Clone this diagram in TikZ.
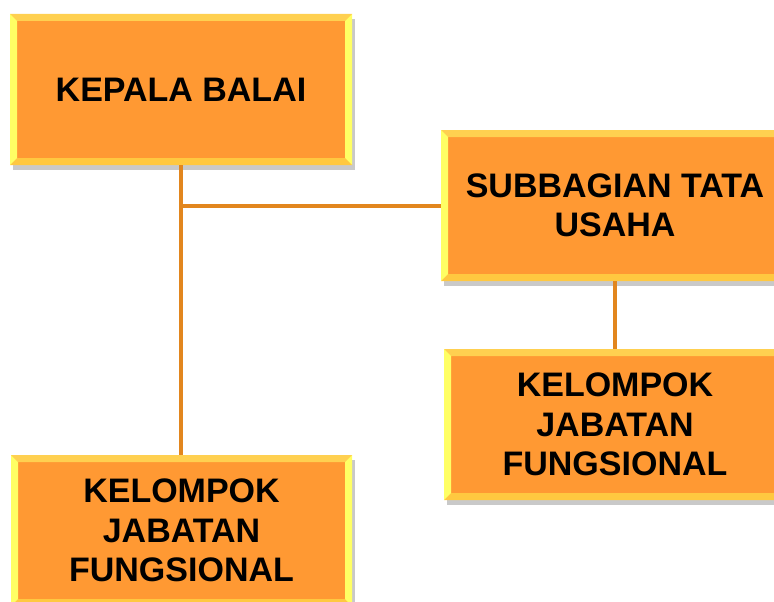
\documentclass[tikz,border=0pt]{standalone}
\usepackage{fontspec}
\setmainfont{Liberation Sans}
\usetikzlibrary{shadows}
\definecolor{boxfill}{RGB}{255,153,51}
\definecolor{beveltop}{RGB}{255,208,80}
\definecolor{bevelside}{RGB}{255,255,100}
\definecolor{bevelbottom}{RGB}{255,200,64}
\definecolor{linecol}{RGB}{226,134,30}
\tikzset{
  orgbox/.style={rectangle, fill=boxfill, minimum width=342pt, minimum height=151pt,
    inner sep=0pt, align=center, font=\fontsize{34}{39.5}\selectfont\bfseries,
    drop shadow={shadow xshift=3pt, shadow yshift=-5pt, opacity=0.3, fill=black!70},
    path picture={
      \coordinate (bbnw) at (path picture bounding box.north west);
      \coordinate (bbne) at (path picture bounding box.north east);
      \coordinate (bbsw) at (path picture bounding box.south west);
      \coordinate (bbse) at (path picture bounding box.south east);
      % bevelled rim
      \fill[beveltop] (bbnw) -- (bbne) -- ([shift={(-7pt,-7pt)}]bbne) -- ([shift={(7pt,-7pt)}]bbnw) -- cycle;
      \fill[bevelbottom] (bbsw) -- (bbse) -- ([shift={(-7pt,7pt)}]bbse) -- ([shift={(7pt,7pt)}]bbsw) -- cycle;
      \fill[bevelside] (bbnw) -- ([shift={(7pt,-7pt)}]bbnw) -- ([shift={(7pt,7pt)}]bbsw) -- (bbsw) -- cycle;
      \fill[bevelside] (bbne) -- ([shift={(-7pt,-7pt)}]bbne) -- ([shift={(-7pt,7pt)}]bbse) -- (bbse) -- cycle;
    }},
  orgline/.style={draw=linecol, line width=4pt}
}
\begin{document}
\begin{tikzpicture}[x=1pt, y=-1pt]
  \useasboundingbox (0,0) rectangle (774,602);
  % boxes
  \node[orgbox] (kepala) at (181,89.5) {KEPALA BALAI};
  \node[orgbox, minimum width=348pt] (subbag) at (615,205.5) {SUBBAGIAN TATA\\USAHA};
  \node[orgbox] (kelompokB) at (615,424.5) {KELOMPOK\\JABATAN\\FUNGSIONAL};
  \node[orgbox, minimum width=341pt] (kelompokA) at (181.5,530.5) {KELOMPOK\\JABATAN\\FUNGSIONAL};
  % connectors
  \coordinate (junction) at (kepala.south |- subbag.west);
  \draw[orgline] (kepala.south) -- (kepala.south |- kelompokA.north);
  \draw[orgline] (junction) -- (subbag.west);
  \draw[orgline] (subbag.south) -- (subbag.south |- kelompokB.north);
\end{tikzpicture}
\end{document}
